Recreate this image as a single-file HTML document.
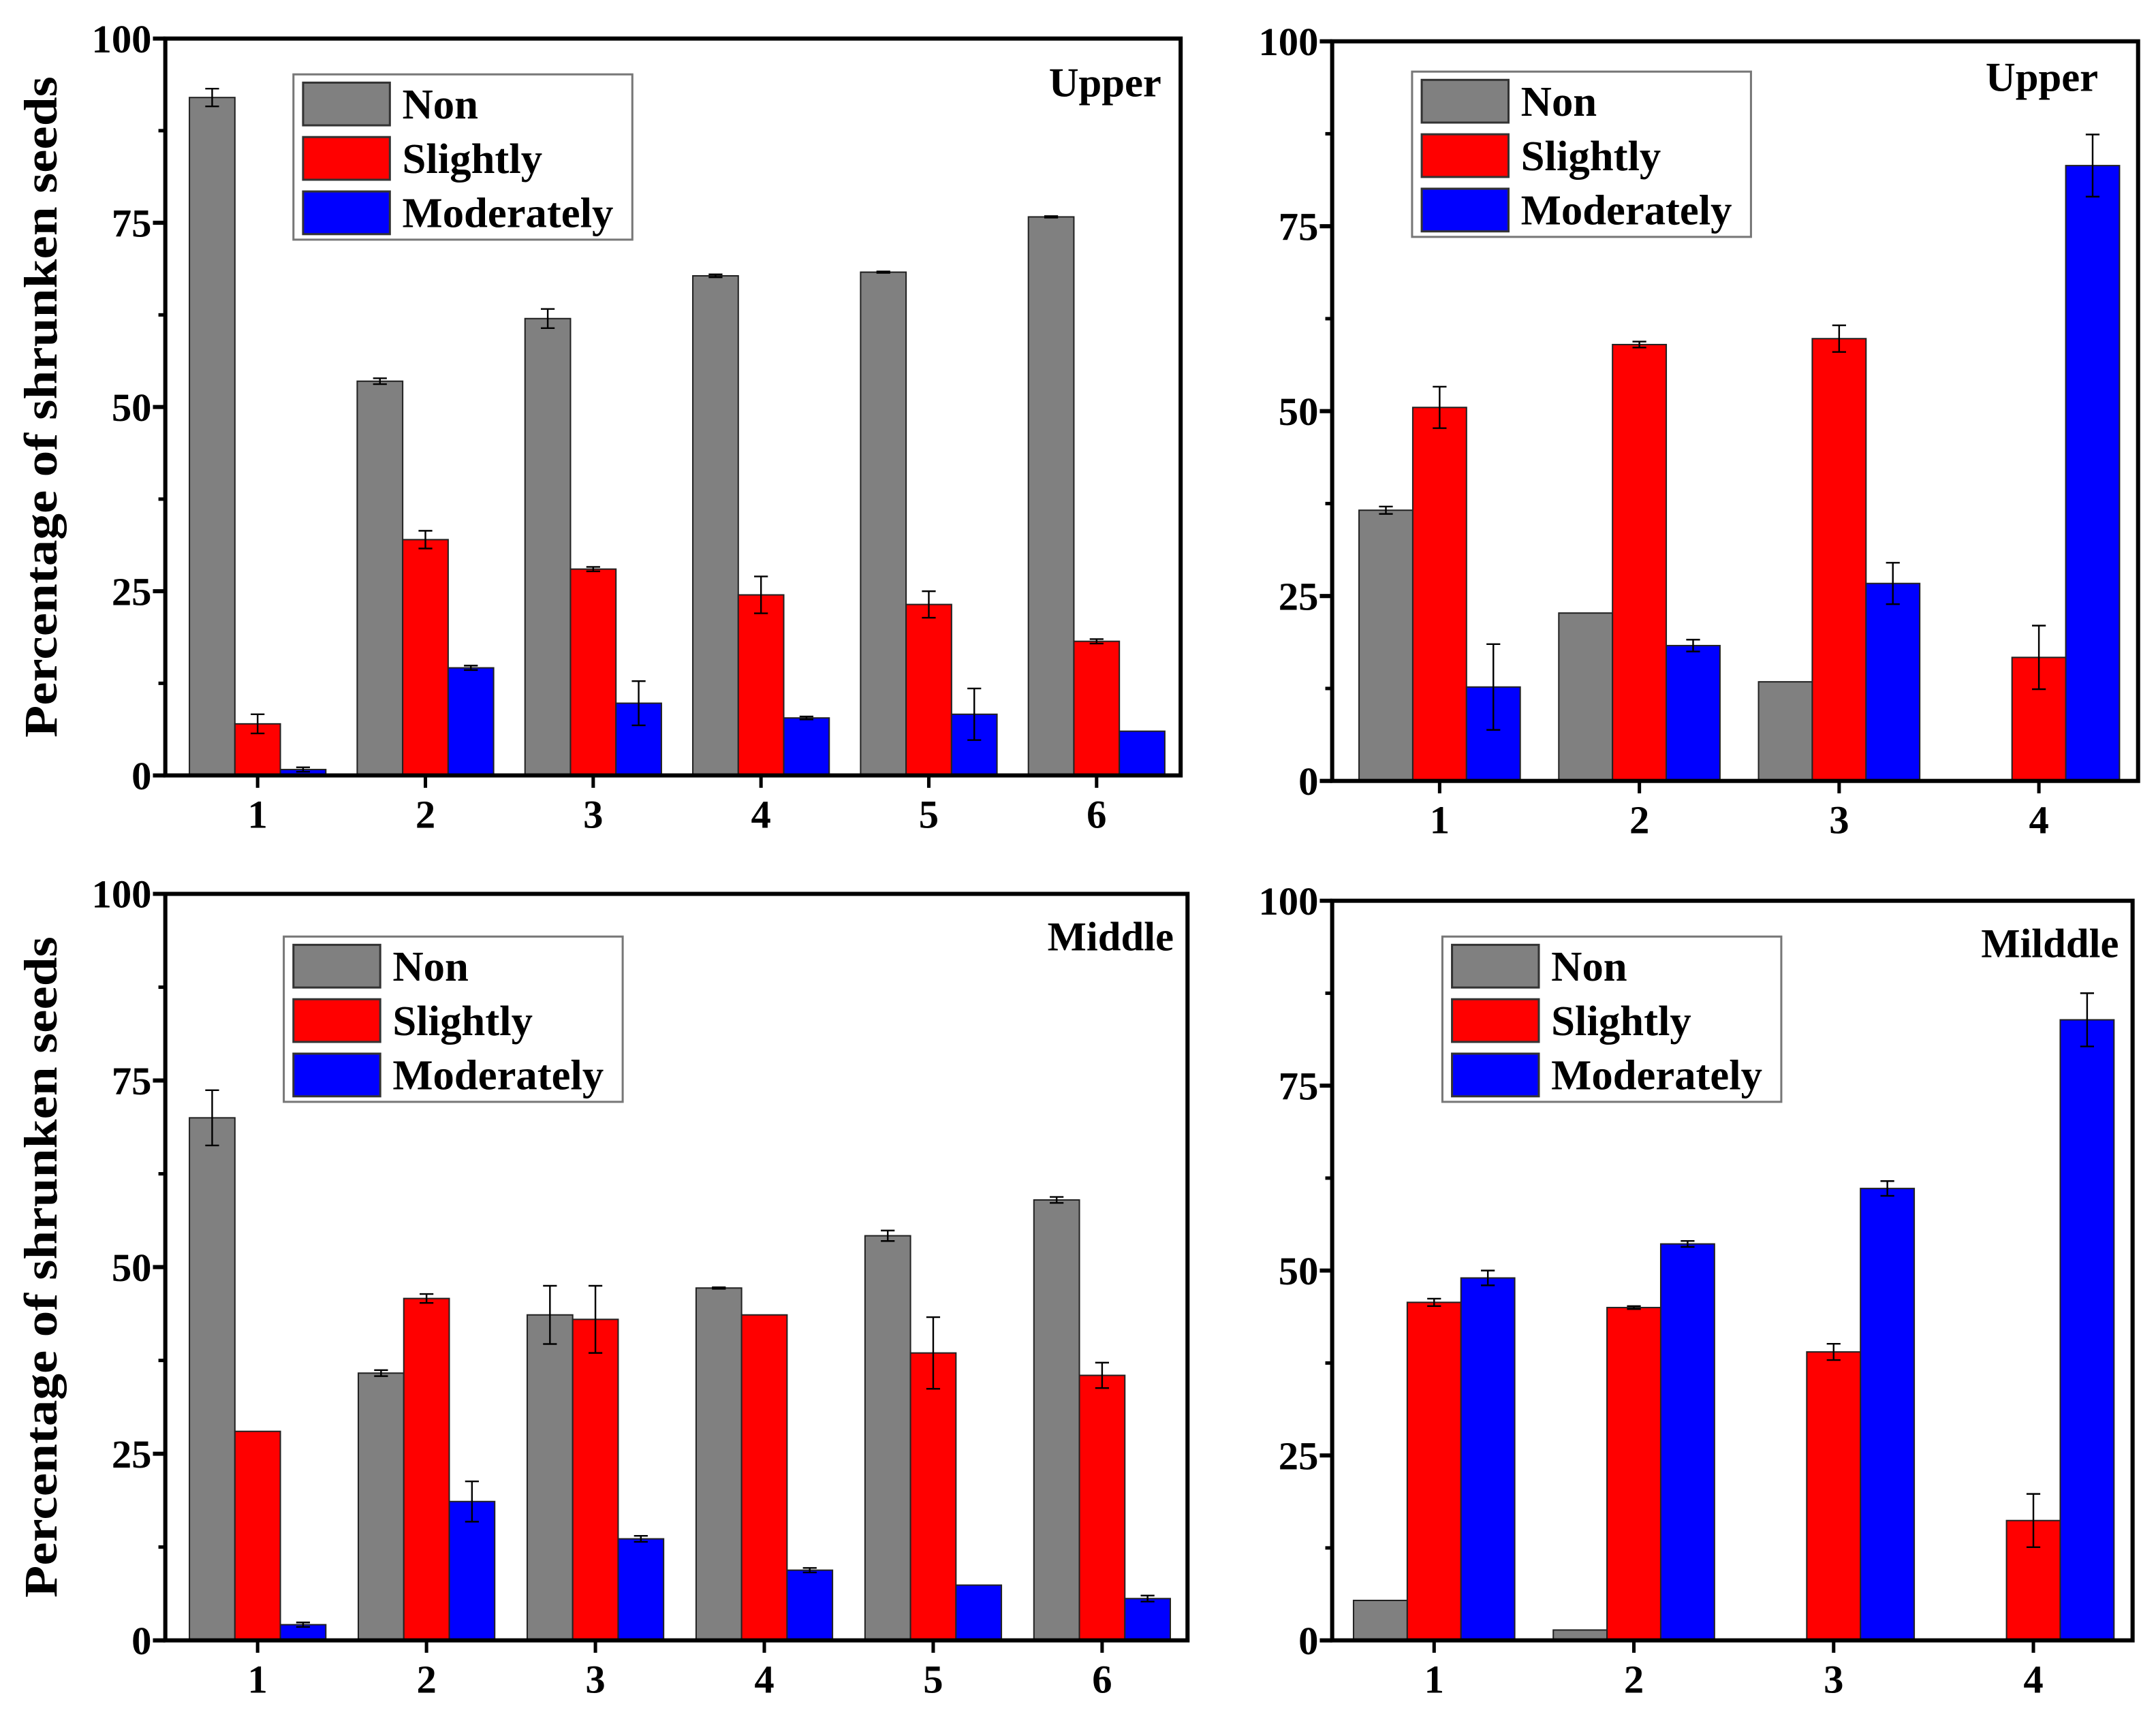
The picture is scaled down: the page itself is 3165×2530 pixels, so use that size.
<!DOCTYPE html>
<html><head><meta charset="utf-8"><style>
html,body{margin:0;padding:0;background:#fff}
svg{display:block}
text{font-family:"Liberation Serif","DejaVu Serif","Times New Roman",serif;font-weight:bold;fill:#000}
</style></head><body>
<svg id="fig" width="3165" height="2530" viewBox="0 0 1565 1251" preserveAspectRatio="none" xmlns="http://www.w3.org/2000/svg"></svg>
<script>
const seriesNames = ["Non","Slightly","Moderately"];
const yTicks = [0,25,50,75,100];
// Panel A (top-left, Upper)
const catsA = ["1","2","3","4","5","6"];
const nonA = [92,53.5,62,67.8,68.3,75.8];
const nonErrA = [1.2,0.4,1.3,0.2,0.1,0.1];
const slA = [7,32,28,24.5,23.2,18.2];
const slErrA = [1.3,1.2,0.3,2.5,1.8,0.3];
const modA = [0.8,14.6,9.8,7.8,8.3,6];
const modErrA = [0.3,0.3,3,0.2,3.5,0];
// Panel B (top-right, Upper)
const catsB = ["1","2","3","4"];
const nonB = [36.6,22.7,13.4,0];
const nonErrB = [0.5,0,0,0];
const slB = [50.5,59,59.8,16.7];
const slErrB = [2.8,0.4,1.8,4.3];
const modB = [12.7,18.3,26.7,83.2];
const modErrB = [5.8,0.8,2.8,4.2];
// Panel C (bottom-left, Middle)
const catsC = ["1","2","3","4","5","6"];
const nonC = [70,35.8,43.6,47.2,54.2,59];
const nonErrC = [3.7,0.4,3.9,0.1,0.7,0.4];
const slC = [28,45.8,43,43.6,38.5,35.5];
const slErrC = [0,0.6,4.5,0,4.8,1.7];
const modC = [2.1,18.6,13.6,9.4,7.4,5.6];
const modErrC = [0.3,2.7,0.4,0.3,0,0.4];
// Panel D (bottom-right, Milddle)
const catsD = ["1","2","3","4"];
const nonD = [5.4,1.4,0,0];
const nonErrD = [0,0,0,0];
const slD = [45.7,45,39,16.2];
const slErrD = [0.5,0.2,1.1,3.6];
const modD = [49,53.6,61.1,83.9];
const modErrD = [1,0.4,1,3.6];

const NS="http://www.w3.org/2000/svg";
const svg=document.getElementById('fig');
function mk(tag,attrs,parent){const e=document.createElementNS(NS,tag);for(const k in attrs)e.setAttribute(k,attrs[k]);(parent||svg).appendChild(e);return e;}
const colors=["#808080","#ff0000","#0000ff"];

function panel(cfg){
  const g=mk('g',{});
  
  
  const {L,R,T,B,x0,dx,bw}=cfg;
  const y=v=>B-(v/100)*(B-T);
  const xc=i=>x0+i*dx;
  const series=[[cfg.non,cfg.nonErr],[cfg.sl,cfg.slErr],[cfg.mod,cfg.modErr]];
  series.forEach((s,si)=>{
    s[0].forEach((v,i)=>{
      const bx=xc(i)-1.5*bw+si*bw;
      if(v>0){
        const r=mk('rect',{x:bx,y:y(v),width:bw,height:B-y(v),fill:colors[si],stroke:'#222','stroke-width':1},g);
        
        
      }
      const e=s[1][i];
      if(e>0){
        const cx=bx+bw/2;
        const eg=mk('g',{stroke:'#000','stroke-width':1.2},g);
        
        
        mk('line',{x1:cx,x2:cx,y1:y(v+e),y2:y(v-e)},eg);
        mk('line',{x1:cx-5,x2:cx+5,y1:y(v+e),y2:y(v+e)},eg);
        mk('line',{x1:cx-5,x2:cx+5,y1:y(v-e),y2:y(v-e)},eg);
      }
    });
  });
  const fr=mk('rect',{x:L,y:T,width:R-L,height:B-T,fill:'none',stroke:'#000','stroke-width':3},g);
  
  
  yTicks.forEach(t=>{
    mk('line',{x1:L-9,x2:L,y1:y(t),y2:y(t),stroke:'#000','stroke-width':3},g);
    const tx=mk('text',{x:L-10,y:y(t)+10,'text-anchor':'end','font-size':29},g);
    tx.textContent=t;
    
    
    if(t<100) mk('line',{x1:L-5,x2:L,y1:y(t+12.5),y2:y(t+12.5),stroke:'#000','stroke-width':2.5},g);
  });
  cfg.cats.forEach((c,i)=>{
    mk('line',{x1:xc(i),x2:xc(i),y1:B,y2:B+9,stroke:'#000','stroke-width':2.5},g);
    const tx=mk('text',{x:xc(i),y:B+38,'text-anchor':'middle','font-size':29},g);
    tx.textContent=c;
    
    
  });
  const tt=mk('text',{x:cfg.tx,y:cfg.ty,'text-anchor':'end','font-size':30},g);
  tt.textContent=cfg.title;
  
  
  const lg=mk('g',{},g);
  
  
  mk('rect',{x:cfg.lx,y:cfg.ly,width:246,height:120,fill:'#fff',stroke:'#777','stroke-width':1.5},lg);
  seriesNames.forEach((n,si)=>{
    const sw=mk('rect',{x:cfg.lx+7,y:cfg.ly+6+si*39.5,width:63,height:31,fill:colors[si],stroke:'#333','stroke-width':1.5},lg);
    
    
    const lt=mk('text',{x:cfg.lx+79,y:cfg.ly+32+si*39.5,'font-size':31},lg);
    lt.textContent=n;
    
    
  });
  if(cfg.ylab){
    const yl=mk('text',{x:0,y:0,'text-anchor':'middle','font-size':34,textLength:480,lengthAdjust:'spacingAndGlyphs',transform:`translate(41,${(T+B)/2}) rotate(-90)`},g);
    yl.textContent='Percentage of shrunken seeds';
    
    
  }
}
panel({name:'panel-upper-left',cats:catsA,non:nonA,nonErr:nonErrA,sl:slA,slErr:slErrA,mod:modA,modErr:modErrA,
  L:120,R:857,T:28,B:563,x0:187,dx:121.8,bw:33,title:'Upper',tx:843,ty:70,lx:213,ly:54,ylab:true});
panel({name:'panel-upper-right',cats:catsB,non:nonB,nonErr:nonErrB,sl:slB,slErr:slErrB,mod:modB,modErr:modErrB,
  L:967,R:1552,T:30,B:567,x0:1045,dx:145,bw:39,title:'Upper',tx:1523,ty:66,lx:1025,ly:52,ylab:false});
panel({name:'panel-middle-left',cats:catsC,non:nonC,nonErr:nonErrC,sl:slC,slErr:slErrC,mod:modC,modErr:modErrC,
  L:120,R:862,T:649,B:1191,x0:187,dx:122.6,bw:33,title:'Middle',tx:852,ty:690,lx:206,ly:680,ylab:true});
panel({name:'panel-middle-right',cats:catsD,non:nonD,nonErr:nonErrD,sl:slD,slErr:slErrD,mod:modD,modErr:modErrD,
  L:967,R:1548,T:654,B:1191,x0:1041,dx:145,bw:39,title:'Milddle',tx:1538,ty:695,lx:1047,ly:680,ylab:false});
</script>
</body></html>
